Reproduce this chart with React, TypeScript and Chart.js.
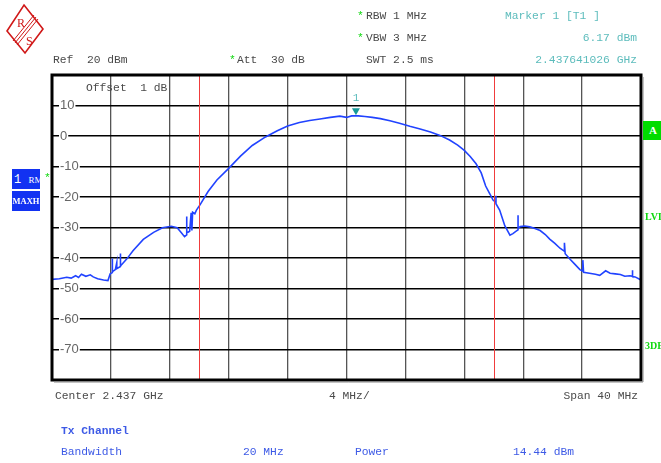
import React, { useEffect, useRef } from "react";
import { Chart, registerables } from "chart.js";

Chart.register(...registerables);

// Trace (Max Hold), frequency offset from centre in MHz, level in dBm
const freqMHz = [
  -20, -19.5, -19.0, -18.7, -18.4, -18.2, -18.0, -17.7, -17.4, -17.2, -16.9, -16.5, -16.2,
  -16.05, -15.9, -15.9, -15.9, -15.7, -15.6, -15.6, -15.35, -15.35, -15.35, -14.9, -14.5,
  -13.8, -13.1, -12.5, -11.9, -11.5, -11.2, -11.0, -10.85, -10.85, -10.85, -10.65, -10.55,
  -10.5, -10.45, -10.3, -10.2, -9.95, -9.4, -8.8, -8.0, -7.2, -6.4, -5.5, -4.7, -4.0, -3.2,
  -2.5, -1.8, -1.1, -0.45, 0.0, 0.35, 0.8, 1.25, 1.75, 2.3, 2.95, 3.6, 4.3, 5.0, 5.7, 6.35,
  7.0, 7.55, 8.0, 8.4, 8.8, 9.15, 9.45, 9.75, 9.95, 10.15, 10.15, 10.15, 10.4, 10.75, 11.1,
  11.3, 11.5, 11.65, 11.65, 11.65, 11.8, 12.1, 12.45, 12.8, 13.15, 13.5, 13.8, 14.15, 14.5,
  14.8, 14.8, 14.85, 15.2, 15.5, 15.85, 16.05, 16.05, 16.1, 16.5, 16.9, 17.2, 17.6, 17.9,
  18.25, 18.6, 18.9, 19.25, 19.4, 19.4, 19.45, 19.6, 20.0,
];
const levelDbm = [
  -47, -46.8, -46.3, -46.6, -45.8, -46.4, -45.3, -46.0, -45.5, -46.2, -46.8, -47.2, -47.4,
  -45.2, -44.8, -40.2, -44.5, -43.8, -41.5, -43.5, -42.8, -38.5, -42.6, -40.2, -37.6,
  -33.9, -31.6, -30.1, -29.6, -30.1, -31.8, -33.0, -32.4, -26.4, -31.8, -31.2, -25.2,
  -31.0, -25.0, -25.5, -24.4, -22.6, -18.2, -14.4, -10.6, -6.6, -3.1, -0.3, 1.7, 3.3, 4.4,
  5.1, 5.6, 6.1, 6.5, 6.1, 6.6, 6.6, 6.4, 6.1, 5.7, 5.0, 4.2, 3.2, 2.3, 1.3, 0.2,
  -1.3, -3.0, -4.7, -6.7, -9.1, -12.1, -16.4, -19.1, -21.0, -21.8, -19.6, -22.2, -24.3, -29.4, -32.5,
  -32.0, -31.3, -30.8, -26.0, -30.2, -29.7, -29.5, -29.8, -30.3, -31.0, -32.3, -33.8, -35.2, -36.8,
  -37.8, -35.0, -38.6, -40.5, -42.0, -43.8, -44.3, -40.7, -44.7, -45.0, -45.3, -45.7, -44.2, -45.0,
  -45.2, -45.4, -46.0, -45.8, -46.0, -44.0, -46.1, -46.2, -47.2,
];

const channelEdgesMHz = [-10, 10];
const markerFreqMHz = 0.641026;
const markerLevelDbm = 6.17;
const yTickLabels = [10, 0, -10, -20, -30, -40, -50, -60, -70];
const spanMHz = [-20, 20];
const levelRange = [-80, 20];

const mono = '"Liberation Mono", "DejaVu Sans Mono", monospace';
const GRAY = "#4a4a4a";
const TEAL = "#5cbcbc";
const GREEN = "#10d810";
const BLUE = "#1232f2";
const TXBLUE = "#3d5ae6";

const overlayPlugin = {
  id: "saOverlay",
  afterDatasetsDraw(chart: any) {
    const { ctx, chartArea, scales } = chart;
    const xs = scales.x;
    const ys = scales.y;
    ctx.save();
    // channel edges
    ctx.strokeStyle = "#f03c3c";
    ctx.lineWidth = 1;
    channelEdgesMHz.forEach((f) => {
      const px = Math.round(xs.getPixelForValue(f)) + 0.5;
      ctx.beginPath();
      ctx.moveTo(px, chartArea.top);
      ctx.lineTo(px, chartArea.bottom);
      ctx.stroke();
    });
    // marker
    const mx = xs.getPixelForValue(markerFreqMHz);
    const my = ys.getPixelForValue(markerLevelDbm) - 2;
    ctx.fillStyle = "#169a9a";
    ctx.beginPath();
    ctx.moveTo(mx, my);
    ctx.lineTo(mx - 4, my - 7);
    ctx.lineTo(mx + 4, my - 7);
    ctx.closePath();
    ctx.fill();
    ctx.fillStyle = TEAL;
    ctx.font = "11px " + mono;
    ctx.textAlign = "center";
    ctx.textBaseline = "middle";
    ctx.fillText("1", mx, my - 17);
    // frame
    ctx.strokeStyle = "#000";
    ctx.lineWidth = 3;
    ctx.strokeRect(chartArea.left, chartArea.top, chartArea.right - chartArea.left, chartArea.bottom - chartArea.top);
    ctx.strokeStyle = "#888";
    ctx.lineWidth = 1;
    ctx.beginPath();
    ctx.moveTo(chartArea.right + 2, chartArea.top + 2);
    ctx.lineTo(chartArea.right + 2, chartArea.bottom + 2);
    ctx.lineTo(chartArea.left + 2, chartArea.bottom + 2);
    ctx.stroke();
    ctx.restore();
  },
};

function T(props: { x?: number; r?: number; y: number; c?: string; s?: number; b?: boolean; f?: string; children: any }) {
  const size = props.s ?? 11.3;
  const style: any = {
    position: "absolute",
    top: props.y - size / 2 - 1,
    fontFamily: props.f ?? mono,
    fontSize: size,
    lineHeight: `${size + 2}px`,
    color: props.c ?? GRAY,
    whiteSpace: "pre",
    fontWeight: props.b ? "bold" : "normal",
  };
  if (props.r !== undefined) {
    style.right = 661 - props.r;
  } else {
    style.left = props.x;
  }
  return <div style={style}>{props.children}</div>;
}

export default function App() {
  const ref = useRef<HTMLCanvasElement | null>(null);

  useEffect(() => {
    if (!ref.current) return;
    const points = freqMHz.map((f, i) => ({ x: f, y: levelDbm[i] }));
    const chart = new Chart(ref.current, {
      type: "line",
      data: {
        datasets: [
          {
            data: points,
            borderColor: "#2143ff",
            borderWidth: 1.6,
            pointRadius: 0,
            tension: 0,
          },
        ],
      },
      options: {
        animation: false,
        responsive: false,
        maintainAspectRatio: false,
        layout: { padding: { left: 36, top: 75, right: 20, bottom: 83 } },
        plugins: { legend: { display: false }, tooltip: { enabled: false } },
        scales: {
          x: {
            type: "linear",
            min: spanMHz[0],
            max: spanMHz[1],
            ticks: { display: false, stepSize: 4 },
            grid: { color: "#555", lineWidth: 1.3, drawTicks: false },
            border: { display: false },
          },
          y: {
            type: "linear",
            min: levelRange[0],
            max: levelRange[1],
            afterBuildTicks: (scale: any) => {
              scale.ticks = [20, ...yTickLabels, -80].map((v) => ({ value: v }));
            },
            ticks: {
              mirror: true,
              padding: 8,
              color: "#666",
              font: { family: '"Liberation Sans", Arial, sans-serif', size: 13 },
              showLabelBackdrop: true,
              backdropColor: "#fff",
              backdropPadding: { left: 1, right: 1, top: 0, bottom: 0 },
              callback: (v: any) => (yTickLabels.includes(Number(v)) ? String(v) : null),
            } as any,
            grid: { color: "#000", lineWidth: 1.4, drawTicks: false },
            border: { display: false },
          },
        },
      },
      plugins: [overlayPlugin],
    } as any);
    return () => chart.destroy();
  }, []);

  return (
    <div style={{ position: "fixed", left: 0, top: 0, width: 661, height: 463, overflow: "hidden", background: "#fff" }}>
      <canvas ref={ref} width={661} height={463} style={{ position: "absolute", left: 0, top: 0, width: 661, height: 463 }} />

      {/* R&S logo */}
      <svg width={50} height={58} style={{ position: "absolute", left: 0, top: 0 }}>
        <polygon points="24,5 43,29 25,53 7,31" fill="#fff" stroke="#d01818" strokeWidth={1.6} />
        <line x1="36" y1="17" x2="15" y2="43" stroke="#d01818" strokeWidth={1} />
        <line x1="38" y1="19" x2="17" y2="45" stroke="#d01818" strokeWidth={1} />
        <line x1="34" y1="15" x2="13" y2="41" stroke="#d01818" strokeWidth={1} />
        <text x="17" y="27" fill="#d01818" fontSize="12" fontFamily="Liberation Serif, serif">R</text>
        <text x="26" y="45" fill="#d01818" fontSize="12" fontFamily="Liberation Serif, serif">S</text>
      </svg>

      <T x={53} y={61}>{"Ref  20 dBm"}</T>
      <T x={229} y={61} c={GREEN}>*</T>
      <T x={237} y={61}>{"Att  30 dB"}</T>
      <T x={357} y={17} c={GREEN}>*</T>
      <T x={366} y={17}>RBW 1 MHz</T>
      <T x={357} y={39} c={GREEN}>*</T>
      <T x={366} y={39}>VBW 3 MHz</T>
      <T x={366} y={61}>SWT 2.5 ms</T>
      <T x={505} y={17} c={TEAL}>{"Marker 1 [T1 ]"}</T>
      <T r={637} y={39} c={TEAL}>6.17 dBm</T>
      <T r={637} y={61} c={TEAL}>2.437641026 GHz</T>

      <T x={86} y={89}>{"Offset  1 dB"}</T>

      <T x={55} y={397}>Center 2.437 GHz</T>
      <T x={329} y={397}>4 MHz/</T>
      <T r={638} y={397}>Span 40 MHz</T>

      <T x={61} y={432} c={TXBLUE} b>Tx Channel</T>
      <T x={61} y={453} c={TXBLUE}>Bandwidth</T>
      <T x={243} y={453} c={TXBLUE}>20 MHz</T>
      <T x={355} y={453} c={TXBLUE}>Power</T>
      <T x={513} y={453} c={TXBLUE}>14.44 dBm</T>

      {/* left trace info boxes */}
      <div style={{ position: "absolute", left: 12, top: 169, width: 28, height: 20, background: BLUE, color: "#fff", fontFamily: mono, lineHeight: "20px", whiteSpace: "pre", paddingLeft: 2, boxSizing: "border-box", overflow: "hidden" }}>
        <span style={{ fontSize: 12 }}>{"1 "}</span>
        <span style={{ fontSize: 9, fontFamily: "Liberation Serif, serif" }}>RM</span>
      </div>
      <T x={44} y={179} c={GREEN}>*</T>
      <div style={{ position: "absolute", left: 12, top: 191, width: 28, height: 20, background: BLUE, color: "#fff", fontFamily: "Liberation Serif, serif", fontWeight: "bold", fontSize: 8.5, lineHeight: "20px", textAlign: "center" }}>
        MAXH
      </div>

      {/* right side indicators */}
      <div style={{ position: "absolute", left: 643, top: 121, width: 20, height: 19, background: "#00dc00", color: "#fff", fontFamily: "Liberation Serif, serif", fontWeight: "bold", fontSize: 11, lineHeight: "19px", paddingLeft: 6, boxSizing: "border-box" }}>
        A
      </div>
      <T x={645} y={217} c={GREEN} s={10} b f="Liberation Serif, serif">LVL</T>
      <T x={645} y={346} c={GREEN} s={10} b f="Liberation Serif, serif">3DB</T>
    </div>
  );
}
